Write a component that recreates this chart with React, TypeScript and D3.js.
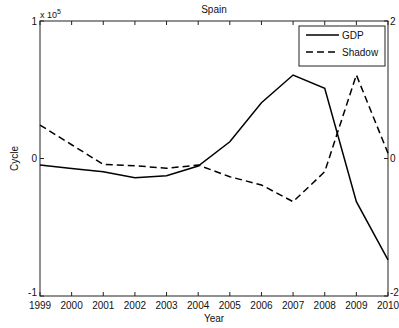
import React from "react";
import * as d3 from "d3";

const years = [1999, 2000, 2001, 2002, 2003, 2004, 2005, 2006, 2007, 2008, 2009, 2010];
const gdp = [-0.047, -0.072, -0.096, -0.14, -0.125, -0.055, 0.122, 0.406, 0.607, 0.51, -0.314, -0.738];
const shadow = [0.487, 0.2, -0.085, -0.105, -0.143, -0.095, -0.265, -0.385, -0.628, -0.192, 1.215, 0.076];
const leftTicks = [-1, 0, 1];
const rightTicks = [-2, 0, 2];
const seriesNames = ["GDP", "Shadow"];

const W = 399, H = 328;
const L = 40, R = 388, T = 21, B = 296;
const FONT = "Liberation Sans, Arial, sans-serif";

export default function App() {
  const x = d3.scaleLinear().domain([1999, 2010]).range([L, R]);
  const yL = d3.scaleLinear().domain([-1, 1]).range([B, T]);
  const yR = d3.scaleLinear().domain([-2, 2]).range([B, T]);
  const lineL = d3.line<number>().x((_, i) => x(years[i])).y((d) => yL(d));
  const lineR = d3.line<number>().x((_, i) => x(years[i])).y((d) => yR(d));
  const tk = 4;
  const labelY = (v: number, y: number, isBottom: boolean) => (isBottom ? y - 0.5 : y + 3.5);
  return (
    <svg width={W} height={H} style={{ position: "absolute", left: 0, top: 0, background: "#fff" }} fontFamily={FONT}>
      <rect x={0} y={0} width={W} height={H} fill="#fff" />
      <rect x={L} y={T} width={R - L} height={B - T} fill="#fff" stroke="#222" strokeWidth={1} />
      {years.map((yr) => (
        <g key={yr}>
          <line x1={x(yr)} x2={x(yr)} y1={B} y2={B - tk} stroke="#222" />
          <line x1={x(yr)} x2={x(yr)} y1={T} y2={T + tk} stroke="#222" />
          <text x={x(yr)} y={B + 13} fontSize={10} textAnchor="middle" fill="#111">{yr}</text>
        </g>
      ))}
      {leftTicks.map((t, i) => (
        <g key={"l" + t}>
          <line x1={L} x2={L + tk} y1={yL(t)} y2={yL(t)} stroke="#222" />
          <text x={L - 3} y={labelY(t, yL(t), i === 0)} fontSize={10} textAnchor="end" fill="#111">{t}</text>
        </g>
      ))}
      {rightTicks.map((t, i) => (
        <g key={"r" + t}>
          <line x1={R} x2={R - tk} y1={yR(t)} y2={yR(t)} stroke="#222" />
          <text x={R + 2} y={labelY(t, yR(t), i === 0)} fontSize={10} textAnchor="start" fill="#111">{t}</text>
        </g>
      ))}
      <text x={L} y={T - 3} fontSize={9} fill="#111">x 10<tspan dy={-4} fontSize={7}>5</tspan></text>
      <text x={(L + R) / 2} y={13} fontSize={10} textAnchor="middle" fill="#111">Spain</text>
      <text x={(L + R) / 2} y={B + 26} fontSize={10} textAnchor="middle" fill="#111">Year</text>
      <text transform={`translate(18,${(T + B) / 2}) rotate(-90)`} fontSize={10} textAnchor="middle" fill="#111">Cycle</text>
      <path d={lineL(gdp) || ""} fill="none" stroke="#000" strokeWidth={1.5} />
      <path d={lineR(shadow) || ""} fill="none" stroke="#000" strokeWidth={1.5} strokeDasharray="7,4" />
      <g>
        <rect x={299} y={26} width={86} height={40} fill="#fff" stroke="#222" />
        <line x1={306} x2={339} y1={35} y2={35} stroke="#000" strokeWidth={1.5} />
        <text x={342} y={38.5} fontSize={10} fill="#111">{seriesNames[0]}</text>
        <line x1={306} x2={339} y1={52} y2={52} stroke="#000" strokeWidth={1.5} strokeDasharray="7,4" />
        <text x={342} y={55.5} fontSize={10} fill="#111">{seriesNames[1]}</text>
      </g>
    </svg>
  );
}
